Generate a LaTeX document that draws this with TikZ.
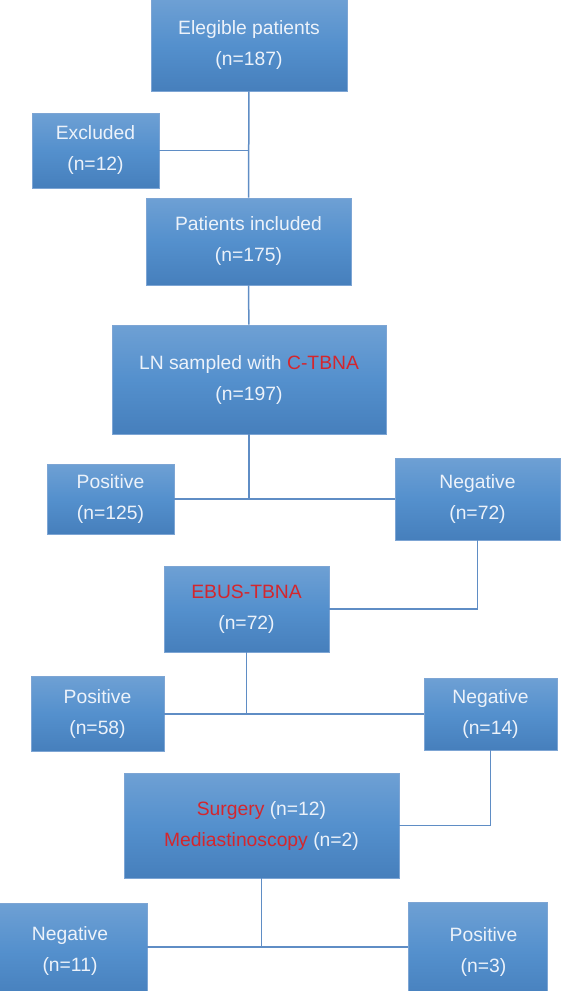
\documentclass[tikz,border=0pt]{standalone}
\usepackage{fontspec}
\setmainfont{Liberation Sans}
\definecolor{boxtop}{RGB}{110,160,212}
\definecolor{boxmid}{RGB}{84,144,205}
\definecolor{boxbot}{RGB}{70,127,188}
\definecolor{boxline}{RGB}{125,165,212}
\definecolor{cnline}{RGB}{95,141,197}
\definecolor{txt}{RGB}{236,242,250}
\definecolor{hl}{RGB}{212,38,45}
\tikzset{bx/.style = {rectangle, top color=boxtop, bottom color=boxbot, middle color=boxmid,
                      draw=boxline, line width=0.6pt, inner sep=0pt, align=center,
                      text=txt, font=\fontsize{19.3}{31}\selectfont},
         cn/.style = {draw=cnline, line width=1.5pt}}

\begin{document}
\begin{tikzpicture}[x=1pt, y=-1pt]
    \useasboundingbox (0,0) rectangle (562,991);
    \clip (0,0) rectangle (562,991);
    \node[bx, minimum width=196pt, minimum height=92pt] (e) at (249,45) {Elegible patients\\(n=187)};
    \node[bx, minimum width=127pt, minimum height=75pt] (x) at (95.5,150.5) {Excluded\\(n=12)};
    \node[bx, minimum width=205pt, minimum height=87pt] (i) at (248.5,241.5) {Patients included\\(n=175)};
    \node[bx, minimum width=274pt, minimum height=109pt] (l) at (249,379.5) {LN sampled with \textcolor{hl}{C-TBNA}\\(n=197)};
    \node[bx, minimum width=127pt, minimum height=70pt] (p1) at (110.5,499) {Positive\\(n=125)};
    \node[bx, minimum width=165pt, minimum height=82pt] (n1) at (477.5,499) {Negative\\(n=72)};
    \node[bx, minimum width=165pt, minimum height=86pt] (eb) at (246.5,609) {\textcolor{hl}{EBUS-TBNA}\\(n=72)};
    \node[bx, minimum width=133pt, minimum height=75pt] (p2) at (97.5,714) {Positive\\(n=58)};
    \node[bx, minimum width=133pt, minimum height=72pt] (n2) at (490.5,714) {Negative\\(n=14)};
    \node[bx, minimum width=275pt, minimum height=105pt] (su) at (261.5,825.5) {\textcolor{hl}{Surgery} (n=12)\\\textcolor{hl}{Mediastinoscopy} (n=2)};
    \node[bx, minimum width=154pt, minimum height=96pt] (n3) at (70,951) {Negative\\(n=11)};
    \node[bx, minimum width=139pt, minimum height=100pt] (p3) at (477.5,952) {\hspace*{12pt}Positive\\\hspace*{12pt}(n=3)};
    \coordinate (f) at (263,947);
    \draw[cn] (e) -- (i);
    \draw[cn] (x) -- (x -| e);
    \draw[cn] (i) -- (l);
    \draw[cn] (l) -- (l |- p1);
    \draw[cn] (p1) -- (n1);
    \draw[cn] (n1) |- (eb);
    \draw[cn] (eb) -- (eb |- p2);
    \draw[cn] (p2) -- (n2);
    \draw[cn] (n2) |- (su);
    \draw[cn] (su) -- (su |- f);
    \draw[cn] (n3.east |- f) -- (p3.west |- f);
\end{tikzpicture}
\end{document}
